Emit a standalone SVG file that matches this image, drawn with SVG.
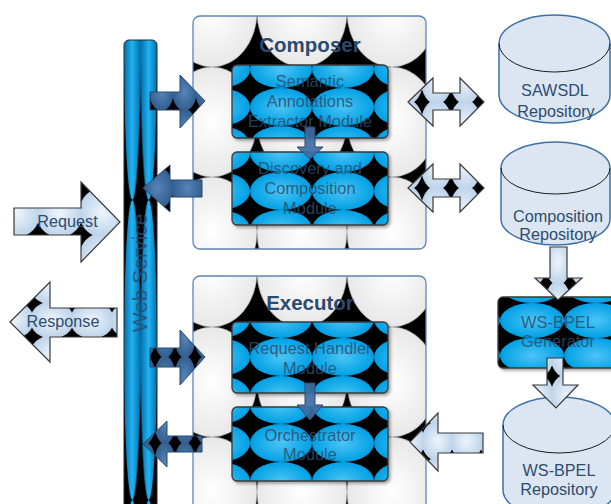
<svg xmlns="http://www.w3.org/2000/svg" width="611" height="504" viewBox="0 0 611 504">
<defs>
<style>
.t{font-family:"Liberation Sans",Arial,sans-serif;text-anchor:middle}
.mod{font-size:16.4px;fill:#2d4c6e;fill-opacity:.85}
.ttl{font-size:20.5px;font-weight:bold;fill:#2b4a6f}
.lbl{font-size:16.2px;fill:#2d4c6e}
.grp{stroke:#5b87b5;stroke-width:1.3}
.mbox{stroke:#3a3a3a;stroke-width:1.3}
.cyl{fill:#dce6f2;stroke:#3e70a8;stroke-width:1.5}
.rim{fill:none;stroke:#1a1a1a;stroke-width:1}
.la{stroke:#3a3a3a;stroke-width:1.2}
.da{stroke:#2a4b73;stroke-width:1}
</style>
<radialGradient id="gBlue"><stop offset="0" stop-color="#4cc4f5"/><stop offset="1" stop-color="#00a0e4"/></radialGradient>
<radialGradient id="gGray"><stop offset="0" stop-color="#ffffff"/><stop offset="1" stop-color="#e8e8e8"/></radialGradient>
<radialGradient id="gLight"><stop offset="0" stop-color="#eef5fb"/><stop offset="1" stop-color="#bcd2e9"/></radialGradient>
<radialGradient id="gDark"><stop offset="0" stop-color="#5585bb"/><stop offset="1" stop-color="#335d8d"/></radialGradient>
<linearGradient id="gBar" x1="0" y1="0" x2="1" y2="0"><stop offset="0" stop-color="#006fae"/><stop offset="0.5" stop-color="#22b3f2"/><stop offset="1" stop-color="#006fae"/></linearGradient>
<pattern id="bBlue" patternUnits="userSpaceOnUse" viewBox="0 0 2 2" preserveAspectRatio="none" width="62" height="38"><rect width="2" height="2"/><ellipse cx="1" cy="1" rx="1" ry="1" fill="url(#gBlue)"/></pattern>
<pattern id="bGray" patternUnits="userSpaceOnUse" viewBox="0 0 2 2" preserveAspectRatio="none" width="90" height="110"><rect width="2" height="2"/><ellipse cx="1" cy="1" rx="1" ry="1" fill="url(#gGray)" stroke="#9a9a9a" stroke-width="0.012"/></pattern>
<pattern id="bLight" patternUnits="userSpaceOnUse" viewBox="0 0 2 2" preserveAspectRatio="none" width="30" height="40"><rect width="2" height="2"/><ellipse cx="1" cy="1" rx="1.1" ry="1.1" fill="url(#gLight)"/></pattern>
<pattern id="bDark" patternUnits="userSpaceOnUse" viewBox="0 0 2 2" preserveAspectRatio="none" width="22" height="36"><rect width="2" height="2"/><ellipse cx="1" cy="1" rx="1.05" ry="1.05" fill="url(#gDark)"/></pattern>
<pattern id="pBar" patternUnits="userSpaceOnUse" viewBox="0 0 2 2" preserveAspectRatio="none" x="124" y="-100" width="16.5" height="300"><rect width="2" height="2"/><ellipse cx="1" cy="1" rx="1" ry="1" fill="url(#gBar)"/></pattern>
<pattern id="pSem" href="#bBlue" x="250" y="88"/>
<pattern id="pDis" href="#bBlue" x="250" y="172"/>
<pattern id="pReqH" href="#bBlue" x="250" y="338"/>
<pattern id="pOrc" href="#bBlue" x="250" y="424"/>
<pattern id="pGen" href="#bBlue" x="500" y="303" width="64" height="35"/>
<pattern id="pCmp" href="#bGray" x="257" y="67"/>
<pattern id="pExe" href="#bGray" x="257" y="327"/>
<pattern id="pReq" href="#bLight" x="38" y="235" width="43" height="45"/>
<pattern id="pResp" href="#bLight" x="32" y="303" width="40" height="34"/>
<pattern id="pDb1" href="#bLight" x="422" y="102" width="29" height="47"/>
<pattern id="pDb2" href="#bLight" x="422" y="188" width="29" height="47"/>
<pattern id="pDn1" href="#bLight" x="546" y="283" width="24" height="42"/>
<pattern id="pDn2" href="#bLight" x="552" y="376" width="30" height="40"/>
<pattern id="pLin" href="#bLight" x="423" y="423" width="29" height="36"/>
<pattern id="pD1" href="#bDark" x="150" y="110" width="23" height="36"/>
<pattern id="pD2" href="#bDark" x="143" y="168" width="29.5" height="40"/>
<pattern id="pD3" href="#bDark" x="155" y="357" width="20" height="40"/>
<pattern id="pD4" href="#bDark" x="155" y="443" width="20" height="40"/>
<filter id="sh" x="-5%" y="-5%" width="115%" height="125%"><feDropShadow dx="2" dy="2" stdDeviation="1.5" flood-color="#000" flood-opacity="0.35"/></filter>
</defs>

<g id="web-service">
<rect x="124" y="40" width="33" height="480" rx="5" fill="url(#pBar)" stroke="#2a2a2a" stroke-width="1"/>
<text class="t" x="0" y="0" transform="translate(147,273) rotate(-90)" font-size="21px" fill="#2d4c6e" fill-opacity="0.85">Web Service</text>
</g>

<g id="composer">
<rect class="grp" x="193" y="16" width="233" height="233" rx="7" fill="url(#pCmp)"/>
<text class="t ttl" x="310" y="52">Composer</text>
</g>

<g id="semantic-annotations-extractor">
<rect class="mbox" x="232" y="65" width="156" height="73" rx="5" fill="url(#pSem)" filter="url(#sh)"/>
<text class="t mod" x="310" y="87">Semantic</text>
<text class="t mod" x="310" y="107">Annotations</text>
<text class="t mod" x="310" y="127">Extractor Module</text>
</g>

<g id="discovery-composition">
<rect class="mbox" x="232" y="152" width="156" height="73" rx="5" fill="url(#pDis)" filter="url(#sh)"/>
<text class="t mod" x="310" y="174">Discovery and</text>
<text class="t mod" x="310" y="194">Composition</text>
<text class="t mod" x="310" y="214">Module</text>
</g>

<g id="executor">
<rect class="grp" x="193" y="276" width="233" height="240" rx="7" fill="url(#pExe)"/>
<text class="t ttl" x="310" y="310">Executor</text>
</g>

<g id="request-handler">
<rect class="mbox" x="232" y="322" width="156" height="71" rx="5" fill="url(#pReqH)" filter="url(#sh)"/>
<text class="t mod" x="310" y="354">Request Handler</text>
<text class="t mod" x="310" y="374">Module</text>
</g>

<g id="orchestrator">
<rect class="mbox" x="232" y="407" width="156" height="74" rx="5" fill="url(#pOrc)" filter="url(#sh)"/>
<text class="t mod" x="310" y="441">Orchestrator</text>
<text class="t mod" x="310" y="460">Module</text>
</g>

<g id="sawsdl-repository">
<path class="cyl" d="M499,43.5 A55.5,28.5 0 0 1 610,43.5 V95 A55.5,28 0 0 1 499,95 Z"/>
<path class="rim" d="M499,43.5 A55.5,28.5 0 0 0 610,43.5"/>
<text class="t lbl" x="555" y="96">SAWSDL</text>
<text class="t lbl" x="556" y="117">Repository</text>
</g>

<g id="composition-repository">
<path class="cyl" d="M501,168 A54.5,26 0 0 1 610,168 V219 A54.5,26 0 0 1 501,219 Z"/>
<path class="rim" d="M501,168 A54.5,26 0 0 0 610,168"/>
<text class="t lbl" x="558" y="222">Composition</text>
<text class="t lbl" x="558" y="240">Repository</text>
</g>

<g id="ws-bpel-generator">
<rect class="mbox" x="498" y="297" width="118" height="71" rx="5" fill="url(#pGen)" filter="url(#sh)"/>
<text class="t mod" x="558" y="328">WS-BPEL</text>
<text class="t mod" x="558" y="347">Generator</text>
</g>

<g id="ws-bpel-repository">
<path class="cyl" d="M503,425 A56,28 0 0 1 615,425 V490 A56,28 0 0 1 503,490 Z"/>
<path class="rim" d="M503,425 A56,28 0 0 0 615,425"/>
<text class="t lbl" x="559" y="476">WS-BPEL</text>
<text class="t lbl" x="559" y="495">Repository</text>
</g>

<g id="connectors">
<path class="la" fill="url(#pReq)" d="M14,208 H81 V182 L120,222 L81,262 V235 H14 Z"/>
<text class="t lbl" x="67.5" y="227">Request</text>
<path class="la" fill="url(#pResp)" d="M10,322 L50,282 V308 H117 V337 H50 V362 Z"/>
<text class="t lbl" x="63" y="327">Response</text>
<path class="da" fill="url(#pD1)" d="M150,92 H180 V75 L205,101 L180,128 V110 H150 Z"/>
<path class="da" fill="url(#pD2)" d="M143,188 L170,165 V180 H202 V197 H170 V212 Z"/>
<path class="da" fill="url(#pD3)" d="M150,348 H180 V330 L205,357 L180,385 V367 H150 Z"/>
<path class="da" fill="url(#pD4)" d="M143,444 L167,421 V436 H202 V452 H167 V467 Z"/>
<path class="da" fill="#3e6ca2" fill-opacity="0.92" d="M305,127 H315 V147 H323 L310,159 L297,147 H305 Z"/>
<path class="da" fill="#3e6ca2" fill-opacity="0.92" d="M305,383 H315 V405 H323 L310,420 L297,405 H305 Z"/>
<path class="la" fill="url(#pDb1)" d="M408,102 L433,78 V93 H460 V78 L484,102 L460,126 V110 H433 V126 Z"/>
<path class="la" fill="url(#pDb2)" d="M408,188 L433,164 V179 H460 V164 L484,188 L460,212 V197 H433 V212 Z"/>
<path class="la" fill="url(#pDn1)" d="M550,247 H567 V278 H582 L558,300 L535,278 H550 Z"/>
<path class="la" fill="url(#pDn2)" d="M547,358 H563 V385 H578 L556,408 L533,385 H547 Z"/>
<path class="la" fill="url(#pLin)" d="M410,442 L438,413 V433 H483 V453 H438 V471 Z"/>
</g>
</svg>
